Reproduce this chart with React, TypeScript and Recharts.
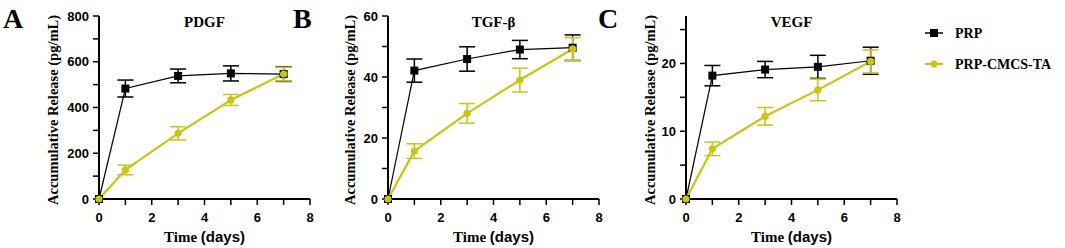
import React from 'react';
import {
  ComposedChart,
  Line,
  XAxis,
  YAxis,
  ErrorBar,
  Legend,
  Customized,
} from 'recharts';

const days = [0, 1, 3, 5, 7];
const seriesNames = ['PRP', 'PRP-CMCS-TA'];
const xTicks = [0, 1, 2, 3, 4, 5, 6, 7, 8];

const pdgfPrp = [0, 483, 538, 549, 546];
const pdgfPrpSd = [0, 37, 30, 33, 32];
const pdgfCmcs = [0, 127, 287, 433, 546];
const pdgfCmcsSd = [0, 21, 29, 24, 30];
const pdgfTicks = [0, 100, 200, 300, 400, 500, 600, 700, 800];

const tgfPrp = [0, 42.1, 45.9, 49, 49.6];
const tgfPrpSd = [0, 3.8, 4, 3, 4.2];
const tgfCmcs = [0, 15.7, 28.1, 39, 49.2];
const tgfCmcsSd = [0, 2.4, 3.2, 3.9, 3.7];
const tgfTicks = [0, 10, 20, 30, 40, 50, 60];

const vegfPrp = [0, 18.2, 19.1, 19.5, 20.4];
const vegfPrpSd = [0, 1.5, 1.2, 1.7, 2];
const vegfCmcs = [0, 7.4, 12.2, 16.1, 20.3];
const vegfCmcsSd = [0, 1, 1.3, 1.6, 1.7];
const vegfTicks = [0, 5, 10, 15, 20, 25];

const YELLOW = '#c9c514';
const SERIF = "'Liberation Serif', 'Times New Roman', serif";
const SANS = "'Liberation Sans', Arial, sans-serif";
const PLOT_W = 211;

const makeRows = (prp: number[], prpSd: number[], cmcs: number[], cmcsSd: number[]) =>
  days.map((d, i) => ({ day: d, prp: prp[i], prpSd: prpSd[i], cmcs: cmcs[i], cmcsSd: cmcsSd[i] }));

const SquareDot = (props: any) => {
  const { cx, cy, index } = props;
  if (cx == null || cy == null) return <g key={`s${index}`} />;
  return <rect key={`s${index}`} x={cx - 4} y={cy - 4} width={8} height={8} fill="#000" />;
};

const RoundDot = (props: any) => {
  const { cx, cy, index } = props;
  if (cx == null || cy == null) return <g key={`c${index}`} />;
  return <circle key={`c${index}`} cx={cx} cy={cy} r={3.6} fill={YELLOW} />;
};

const LegendBox = () => (
  <svg width={150} height={60}>
    <line x1={0} x2={18} y1={13} y2={13} stroke="#000" strokeWidth={1.5} />
    <rect x={5} y={9} width={8} height={8} fill="#000" />
    <text x={30} y={18} style={{ fontFamily: SERIF, fontWeight: 'bold', fontSize: 14 }} fill="#000">
      {seriesNames[0]}
    </text>
    <line x1={0} x2={18} y1={44} y2={44} stroke={YELLOW} strokeWidth={2} />
    <circle cx={9} cy={44} r={3.4} fill={YELLOW} />
    <text x={30} y={49} style={{ fontFamily: SERIF, fontWeight: 'bold', fontSize: 14 }} fill="#000">
      {seriesNames[1]}
    </text>
  </svg>
);

interface PanelProps {
  left: number;
  width: number;
  yWidth: number;
  letter: string;
  title: string;
  rows: ReturnType<typeof makeRows>;
  yTicks: number[];
  yMax: number;
  labelStep: number;
  yLabelX: number;
  legend?: boolean;
}

function Panel({ left, width, yWidth, letter, title, rows, yTicks, yMax, labelStep, yLabelX, legend }: PanelProps) {
  const rightMargin = width - yWidth - PLOT_W;
  const centerX = yWidth + PLOT_W / 2;
  const axisLine = { stroke: '#000', strokeWidth: 2 };
  const tickLine = { stroke: '#000', strokeWidth: 1.5 };
  const tick = { fill: '#000', fontFamily: SANS, fontWeight: 'bold', fontSize: 13 };
  const serifBold = (size: number) => ({ fontFamily: SERIF, fontWeight: 'bold' as const, fontSize: size });

  return (
    <div style={{ position: 'absolute', left, top: 0 }}>
      <ComposedChart
        width={width}
        height={248}
        data={rows}
        margin={{ top: 16, right: rightMargin, left: 0, bottom: 19 }}
      >
        <XAxis
          dataKey="day"
          type="number"
          domain={[0, 8]}
          ticks={xTicks}
          interval={0}
          height={30}
          tickSize={6}
          tickMargin={8}
          axisLine={axisLine}
          tickLine={tickLine}
          tick={tick}
          tickFormatter={(v: number) => (v % 2 === 0 ? String(v) : '')}
        />
        <YAxis
          type="number"
          domain={[0, yMax]}
          ticks={yTicks}
          interval={0}
          width={yWidth}
          tickSize={6}
          tickMargin={4}
          axisLine={axisLine}
          tickLine={tickLine}
          tick={tick}
          tickFormatter={(v: number) => (v % labelStep === 0 ? String(v) : '')}
        />
        <Line
          dataKey="prp"
          name={seriesNames[0]}
          stroke="#000"
          strokeWidth={1.2}
          dot={SquareDot}
          activeDot={false}
          isAnimationActive={false}
        >
          <ErrorBar dataKey="prpSd" direction="y" width={8} stroke="#000" strokeWidth={1.5} isAnimationActive={false} />
        </Line>
        <Line
          dataKey="cmcs"
          name={seriesNames[1]}
          stroke={YELLOW}
          strokeWidth={2.2}
          dot={RoundDot}
          activeDot={false}
          isAnimationActive={false}
        >
          <ErrorBar dataKey="cmcsSd" direction="y" width={8} stroke={YELLOW} strokeWidth={1.5} isAnimationActive={false} />
        </Line>
        <Customized
          component={() => (
            <g>
              <text x={3} y={28} style={serifBold(28)} fill="#000">
                {letter}
              </text>
              <text x={centerX} y={27} textAnchor="middle" style={serifBold(15)} fill="#000">
                {title}
              </text>
              <text
                transform={`translate(${yLabelX}, 110) rotate(-90)`}
                textAnchor="middle"
                style={serifBold(14.5)}
                fill="#000"
              >
                Accumulative Release (pg/mL)
              </text>
              <text x={centerX} y={242} textAnchor="middle" style={{ fontWeight: 'bold', fontSize: 15 }} fill="#000">
                <tspan style={{ fontFamily: SERIF }}>Time </tspan>
                <tspan style={{ fontFamily: SANS }}>(days)</tspan>
              </text>
            </g>
          )}
        />
        {legend && (
          <Legend
            layout="vertical"
            align="center"
            verticalAlign="middle"
            content={() => <LegendBox />}
            wrapperStyle={{ left: 330, top: 20, width: 150, height: 60 }}
          />
        )}
      </ComposedChart>
    </div>
  );
}

export default function App() {
  return (
    <div style={{ position: 'absolute', left: 0, top: 0, width: 1065, height: 248, background: '#fff', overflow: 'hidden' }}>
      <Panel
        left={0}
        width={320}
        yWidth={99}
        letter="A"
        title="PDGF"
        rows={makeRows(pdgfPrp, pdgfPrpSd, pdgfCmcs, pdgfCmcsSd)}
        yTicks={pdgfTicks}
        yMax={800}
        labelStep={200}
        yLabelX={58}
      />
      <Panel
        left={290}
        width={320}
        yWidth={98}
        letter="B"
        title="TGF-β"
        rows={makeRows(tgfPrp, tgfPrpSd, tgfCmcs, tgfCmcsSd)}
        yTicks={tgfTicks}
        yMax={60}
        labelStep={20}
        yLabelX={65}
      />
      <Panel
        left={595}
        width={470}
        yWidth={91}
        letter="C"
        title="VEGF"
        rows={makeRows(vegfPrp, vegfPrpSd, vegfCmcs, vegfCmcsSd)}
        yTicks={vegfTicks}
        yMax={27}
        labelStep={10}
        yLabelX={60}
        legend
      />
    </div>
  );
}
